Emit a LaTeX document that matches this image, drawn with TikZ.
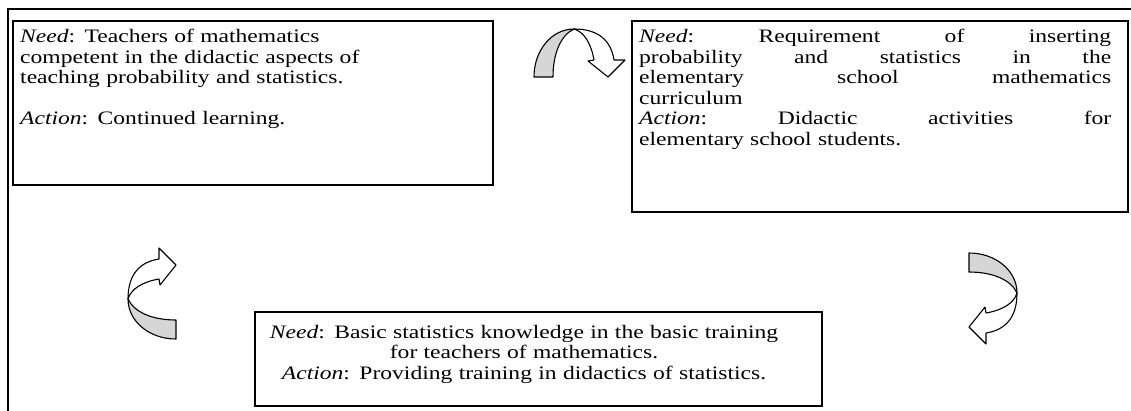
\documentclass[tikz,border=0pt]{standalone}
\usepackage{fontspec}
\setmainfont[FakeStretch=1.24]{Liberation Serif}

% one curved arrow: grey band, then the white shaft with its head
\newcommand{\turnarrow}{%
\draw[band] (0,-40) .. controls (27,-40) and (48,-22) .. (48,0)
  .. controls (42,-13) and (24,-21) .. (0,-21) -- cycle;
\draw[head] (48,0) .. controls (48,25) and (36,37) .. (17,40) -- (17,51)
  -- (0,34) -- (16,14) -- (17,20) .. controls (34,17) and (45,10) .. (48,0) -- cycle;
}
% a justified line of the right box
\newcommand{\fullline}[1]{\makebox[472pt][s]{\spaceskip=0pt\xspaceskip=0pt\frenchspacing #1}}

\begin{document}
\begin{tikzpicture}[x=1pt,y=-1pt,
  frame/.style={line width=1.2pt},
  boxtext/.style={anchor=north west, inner xsep=7pt, inner ysep=8pt, align=left,
    font=\fontsize{19}{20.5}\selectfont},
  band/.style={line width=1.1pt, fill=black!16, line join=round},
  head/.style={line width=1.1pt, fill=white, line join=round}]
\useasboundingbox (0,0) rectangle (1131,410);

% outer frame, cut by the page
\draw[frame] (8,430) -- (8,9) -- (1150,9);

% the three boxes
\draw[frame] (13,21) rectangle (493,185);
\node[boxtext, text width=466pt] (teachers) at (13,21)
  {\textit{Need}: Teachers of mathematics\\
   competent in the didactic aspects of\\
   teaching probability and statistics.\\[20.5pt]
   \textit{Action}: Continued learning.};

\draw[frame] (632,21) rectangle (1128,212);
\node[boxtext, text width=472pt] (school) at (632,21)
  {\fullline{\textit{Need}: Requirement of inserting}\\
   \fullline{probability and statistics in the}\\
   \fullline{elementary school mathematics}\\
   curriculum\\
   \fullline{\textit{Action}: Didactic activities for}\\
   elementary school students.};

\draw[frame] (255,312) rectangle (822,406);
\node[boxtext, anchor=north, align=center, inner ysep=13pt, text width=540pt] (training) at (524,312)
  {\textit{Need}: Basic statistics knowledge in the basic training\\
   for teachers of mathematics.\\
   \textit{Action}: Providing training in didactics of statistics.};

% arrows of the cycle
\begin{scope}[shift={(574,77)}, rotate=90]
\turnarrow
\end{scope}
\begin{scope}[shift={(969,293)}]
\turnarrow
\end{scope}
\begin{scope}[shift={(176,299)}, rotate=180]
\turnarrow
\end{scope}
\end{tikzpicture}
\end{document}
